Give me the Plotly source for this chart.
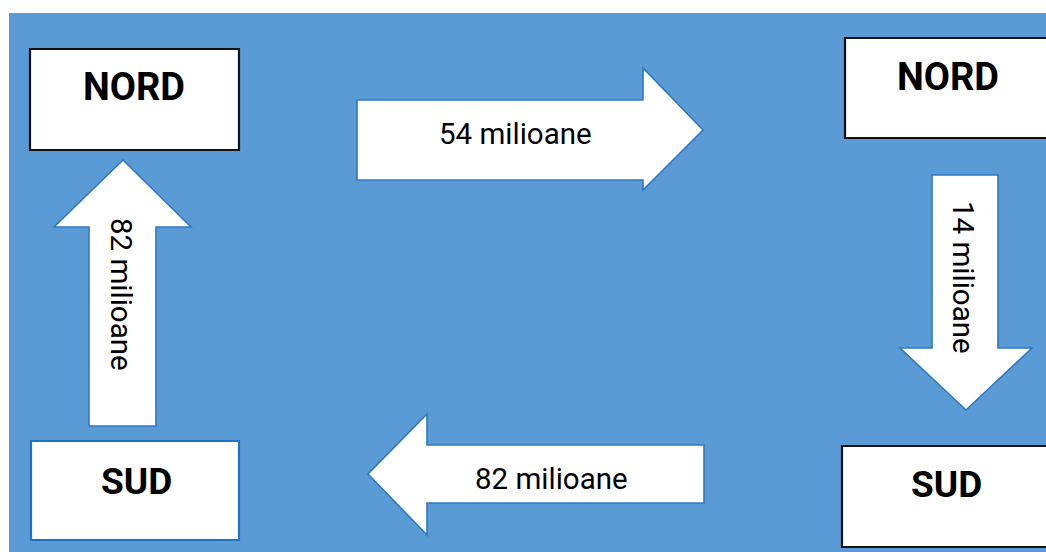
import plotly.graph_objects as go

# ---- data ----
regions_left = ["NORD", "SUD"]
regions_right = ["NORD", "SUD"]
flow_values = [54, 14, 82, 82]          # top (right), right (down), bottom (left), left (up)
flow_unit = "milioane"
flow_labels = [f"{v} {flow_unit}" for v in flow_values]

W, H = 1046, 552
BG = "#5B9BD5"
ARROW_LINE = "#2E78C4"

fig = go.Figure()
fig.add_trace(go.Scatter(x=[0, W], y=[0, H], mode="markers", marker=dict(opacity=0), hoverinfo="skip", showlegend=False))

shapes = []
# background panel
shapes.append(dict(type="rect", x0=9, y0=13, x1=W + 5, y1=H + 5, fillcolor=BG, line=dict(width=0), layer="below"))

def box(x0, y0, x1, y1, color):
    return dict(type="rect", x0=x0, y0=y0, x1=x1, y1=y1, fillcolor="white", line=dict(color=color, width=2.2))

def poly(pts):
    d = "M " + " L ".join(f"{x},{y}" for x, y in pts) + " Z"
    return dict(type="path", path=d, fillcolor="white", line=dict(color=ARROW_LINE, width=1.6))

# boxes
shapes.append(box(30, 49, 239, 150, "#111111"))      # left NORD
shapes.append(box(31, 441, 239, 540, "#1F72C4"))     # left SUD
shapes.append(box(845, 38, W + 10, 138, "#111111"))  # right NORD
shapes.append(box(842, 446, W + 10, 547, "#111111")) # right SUD

# arrows
# right-pointing (top)
shapes.append(poly([(357, 100), (643, 100), (643, 68), (703, 130), (643, 190), (643, 180), (357, 180)]))
# down-pointing (right)
shapes.append(poly([(932, 175), (998, 175), (998, 348), (1032, 348), (966, 410), (900, 348), (932, 348)]))
# left-pointing (bottom)
shapes.append(poly([(704, 445), (427, 445), (427, 414), (368, 474), (427, 535), (427, 503), (704, 503)]))
# up-pointing (left)
shapes.append(poly([(89, 426), (89, 227), (54, 227), (123, 160), (191, 227), (156, 227), (156, 426)]))

annotations = []
def label(x, y, text, size, bold=False, angle=0):
    annotations.append(dict(x=x, y=y, xref="x", yref="y", text=text, showarrow=False, textangle=angle,
                            font=dict(family="Roboto", size=size, color="#000000", weight=700 if bold else 400),
                            xanchor="center", yanchor="middle"))

label(134, 87, regions_left[0], 38, bold=True)
label(136, 481, regions_left[1], 37, bold=True)
label(948, 77, regions_right[0], 38, bold=True)
label(946, 484, regions_right[1], 37, bold=True)

label(515, 134, flow_labels[0], 29.5)
label(963, 277, flow_labels[1], 29.5, angle=90)
label(551, 479, flow_labels[2], 29.5)
label(121, 294, flow_labels[3], 29.5, angle=90)

fig.update_layout(
    width=W, height=H, margin=dict(l=0, r=0, t=0, b=0),
    paper_bgcolor="white", plot_bgcolor="white",
    xaxis=dict(range=[0, W], visible=False, fixedrange=True),
    yaxis=dict(range=[H, 0], visible=False, fixedrange=True),
    shapes=shapes, annotations=annotations, showlegend=False,
)

fig.write_html("out.html", config={"displayModeBar": False},
               post_script="document.body.style.margin='0';document.body.style.overflow='hidden';")
